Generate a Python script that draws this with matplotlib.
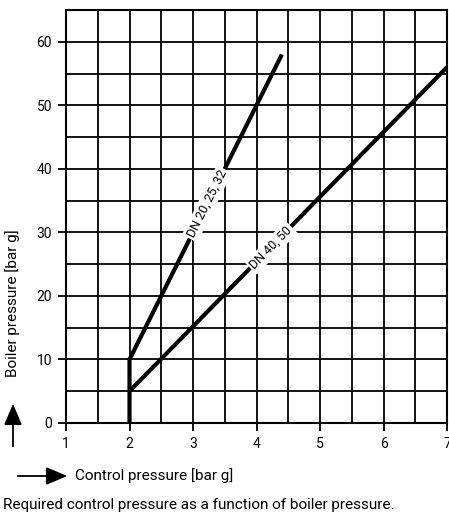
import matplotlib
matplotlib.use('Agg')
import matplotlib.pyplot as plt
import numpy as np

plt.rcParams['font.family'] = ['Roboto', 'DejaVu Sans']

# DN 20, 25, 32 curve
small_x = [2.0, 2.0, 4.4]
small_y = [0.0, 10.0, 58.0]
small_label = 'DN 20, 25, 32'
# DN 40, 50 curve
large_x = [2.0, 7.0]
large_y = [5.0, 56.0]
large_label = 'DN 40, 50'

xticks = [1, 2, 3, 4, 5, 6, 7]
yticks = [0, 10, 20, 30, 40, 50, 60]

W, H = 449, 516
fig = plt.figure(figsize=(W / 100, H / 100), dpi=100)
ax = fig.add_axes([66 / W, 1 - 423 / H, (447 - 66) / W, (423 - 10) / H])

ax.set_xlim(1, 7)
ax.set_ylim(0, 65)
ax.set_xticks(xticks)
ax.set_yticks(yticks)
ax.set_xticks(np.arange(1, 7.01, 0.5), minor=True)
ax.set_yticks(np.arange(0, 65.01, 5), minor=True)
ax.grid(which='both', color='black', linewidth=1.3)
ax.set_axisbelow(True)
ax.tick_params(which='major', direction='out', length=6, width=1.3, labelsize=10, pad=4)
ax.tick_params(which='minor', length=0)
for s in ax.spines.values():
    s.set_linewidth(1.5)

ax.plot(small_x, small_y, color='black', linewidth=3, solid_capstyle='butt')
ax.plot(large_x, large_y, color='black', linewidth=3, solid_capstyle='butt')

# labels along the lines, angle from display slope
def line_angle(xs, ys):
    p0 = ax.transData.transform((xs[-2], ys[-2]))
    p1 = ax.transData.transform((xs[-1], ys[-1]))
    return np.degrees(np.arctan2(p1[1] - p0[1], p1[0] - p0[0]))

a1 = line_angle(small_x, small_y)
a2 = line_angle(large_x, large_y)
ax.text(3.22, 34.5, small_label, rotation=a1, rotation_mode='anchor', ha='center', va='center',
        fontsize=9, bbox=dict(facecolor='white', edgecolor='none', pad=1.5))
ax.text(4.23, 27.6, large_label, rotation=a2, rotation_mode='anchor', ha='center', va='center',
        fontsize=9, bbox=dict(facecolor='white', edgecolor='none', pad=1.5))

# axis titles with arrows
arrow = dict(arrowstyle='-|>,head_length=1.3,head_width=0.55', color='black', lw=1.3)
fig.text(13 / W, 1 - 303 / H, 'Boiler pressure [bar g]', rotation=90, ha='center', va='center', fontsize=11)
ax.annotate('', xy=(13 / W, 1 - 401 / H), xytext=(13 / W, 1 - 449 / H),
            xycoords='figure fraction', textcoords='figure fraction', arrowprops=arrow)
ax.annotate('', xy=(70 / W, 1 - 476 / H), xytext=(15 / W, 1 - 476 / H),
            xycoords='figure fraction', textcoords='figure fraction', arrowprops=arrow)
fig.text(75 / W, 1 - 476 / H, 'Control pressure [bar g]', ha='left', va='center', fontsize=11)
fig.text(3 / W, 1 - 505 / H, 'Required control pressure as a function of boiler pressure.',
         ha='left', va='center', fontsize=11)

fig.savefig('out.png', dpi=100)
